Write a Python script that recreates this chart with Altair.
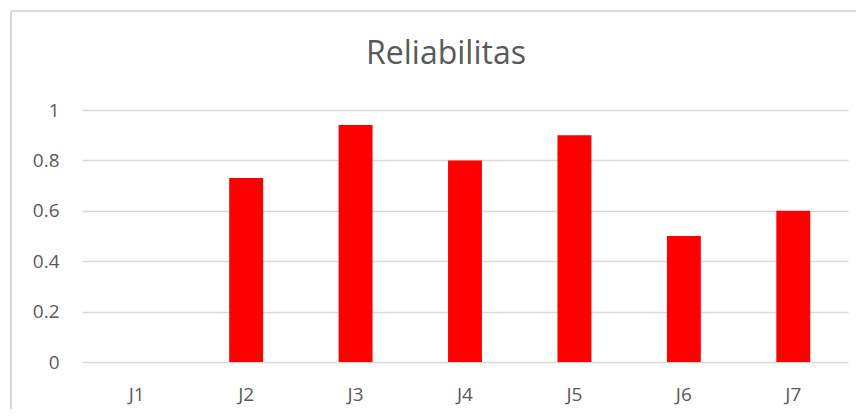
import altair as alt
import pandas as pd

categories = ["J1", "J2", "J3", "J4", "J5", "J6", "J7"]
values = [0.0, 0.73, 0.94, 0.80, 0.90, 0.50, 0.60]
y_ticks = [0, 0.2, 0.4, 0.6, 0.8, 1.0]

df = pd.DataFrame({"kategori": categories, "nilai": values})

FONT = "Open Sans"
TXT = "#595959"
GRID = "#d9d9d9"

bars = alt.Chart(df).mark_bar(color="#ff0000", strokeWidth=0).encode(
    x=alt.X(
        "kategori:N",
        sort=categories,
        scale=alt.Scale(paddingInner=0.69, paddingOuter=0.345),
        axis=alt.Axis(
            title=None, labelAngle=0, ticks=False, domain=False, grid=False,
            labelPadding=23, labelFontSize=19, labelColor=TXT, labelFont=FONT,
        ),
    ),
    y=alt.Y(
        "nilai:Q",
        scale=alt.Scale(domain=[0, 1], nice=False),
        axis=alt.Axis(
            title=None, values=y_ticks, format="~g", ticks=False, domain=False,
            grid=True, gridColor=GRID, gridWidth=1.3,
            labelPadding=23, labelFontSize=19, labelColor=TXT, labelFont=FONT,
        ),
    ),
)

frame_top = alt.Chart(df).mark_rule(color=GRID, strokeWidth=1.5).encode(
    x=alt.value(-71), x2=alt.value(900), y=alt.value(-99)
)
frame_left = alt.Chart(df).mark_rule(color=GRID, strokeWidth=1.5).encode(
    x=alt.value(-71), y=alt.value(-99), y2=alt.value(400)
)

chart = alt.layer(bars, frame_top, frame_left).properties(
    width=766,
    height=252,
    title=alt.Title(
        "Reliabilitas", font=FONT, fontSize=32, fontWeight="normal", color=TXT,
        anchor="middle", dx=-19, offset=-86, baseline="alphabetic",
    ),
    autosize=alt.AutoSizeParams(type="none"),
    padding={"left": 74, "top": 102, "right": 8, "bottom": 47},
).configure_view(stroke=None)

chart.save("out.html", embed_options={"renderer": "svg", "actions": False})
